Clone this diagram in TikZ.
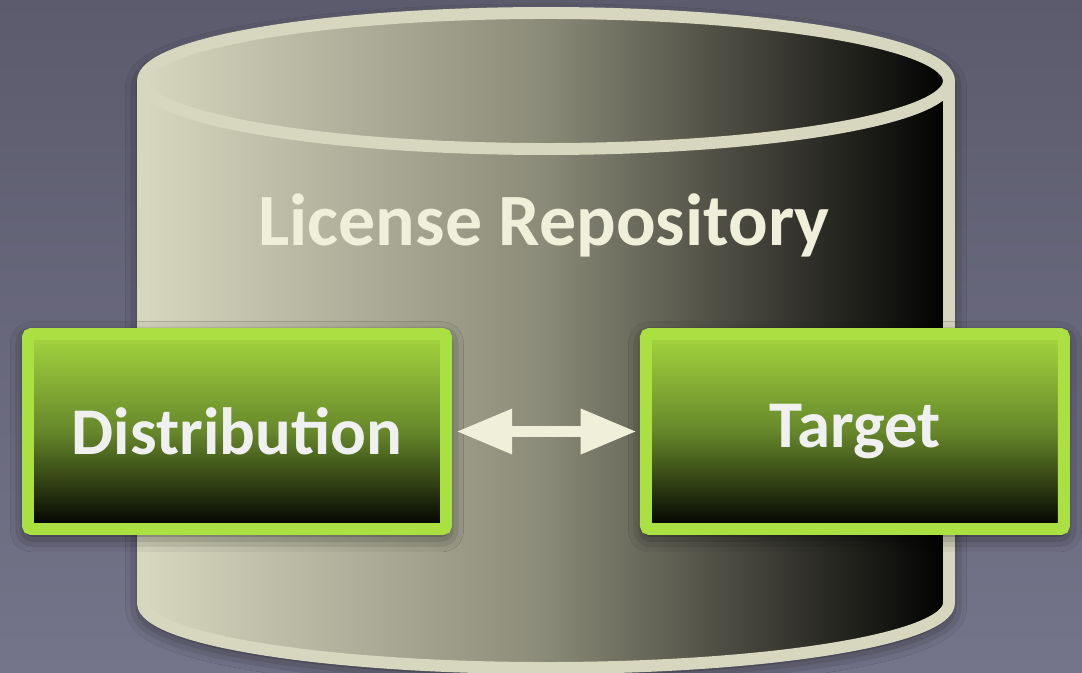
\documentclass[tikz,border=0pt]{standalone}
\usepackage{fontspec}
\setmainfont{Carlito}
\usetikzlibrary{arrows.meta,shadows.blur,positioning}
\definecolor{bgtop}{HTML}{5C5B6D}
\definecolor{bgbottom}{HTML}{74748A}
\definecolor{cylcream}{HTML}{D7D7BF}
\definecolor{cylmid}{HTML}{8A8A78}
\definecolor{textcream}{HTML}{F0F0DA}
\definecolor{boxgreen}{HTML}{ABE043}
\definecolor{boxtop}{HTML}{A4D63F}
\definecolor{boxmid}{HTML}{66872A}
\tikzset{
	cylfill/.style={left color=cylcream, right color=black, middle color=cylmid},
	cylline/.style={draw=cylcream, line width=6.8pt, line join=round},
	softshadow/.style={blur shadow={shadow xshift=0pt, shadow yshift=-3pt, shadow blur radius=10pt, shadow opacity=70}},
	greenbox/.style={
			draw=boxgreen, line width=6.8pt, rounded corners=2pt,
			top color=boxtop, bottom color=black, middle color=boxmid,
			minimum width=8.36cm, minimum height=3.9cm,
			text=black!6, font=\bfseries\fontsize{38}{40}\selectfont,
			softshadow
		},
	dblarrow/.style={
			draw=textcream, line width=6.8pt,
			{Triangle[length=32pt,width=24pt]}-{Triangle[length=32pt,width=24pt]},
			shorten <=0.08cm, shorten >=0.06cm
		}
}

\begin{document}
\begin{tikzpicture}
	% Background
	\useasboundingbox (0,0) rectangle (21.64,13.44);
	\shade[top color=bgtop, bottom color=bgbottom] (0,0) rectangle (21.64,13.44);

	% Draw the repository cylinder
	\path[cylfill, softshadow] (2.86,11.82) -- (2.86,1.38)
		arc[start angle=180, end angle=360, x radius=8.06, y radius=1.3]
		-- (18.98,11.82)
		arc[start angle=0, end angle=180, x radius=8.06, y radius=1.3] -- cycle;
	\draw[cylline] (2.86,11.82) -- (2.86,1.38)
		arc[start angle=180, end angle=360, x radius=8.06, y radius=1.3]
		-- (18.98,11.82);
	\path[cylfill, cylline] (10.92,11.82) ellipse[x radius=8.06, y radius=1.36];

	% Label the repository
	\node[text=textcream, font=\bfseries\fontsize{42}{44}\selectfont] (repo) at (10.88,8.94) {License Repository};

	% The two boxes
	\node[greenbox] (dist) at (4.74,4.81) {Distribution};
	\node[greenbox, right=3.76cm of dist] (targ) {Target};

	% Link between them
	\draw[dblarrow] (dist) -- (targ);
\end{tikzpicture}
\end{document}
